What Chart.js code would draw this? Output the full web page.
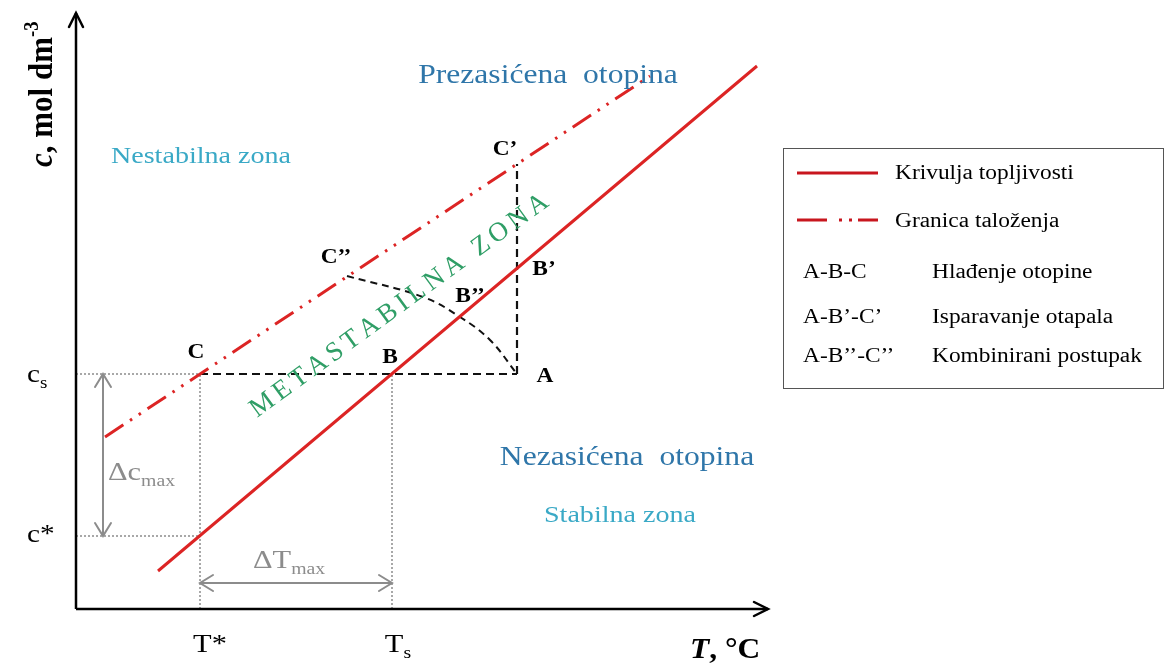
<!DOCTYPE html>
<html>
<head>
<meta charset="utf-8">
<script src="https://cdn.jsdelivr.net/npm/chart.js@4.4.0/dist/chart.umd.min.js"></script>
<style>
  html, body { margin: 0; padding: 0; background: #fff; }
  canvas { display: block; }
</style>
</head>
<body>
<canvas id="chart" width="1169" height="663"></canvas>
<script>
// schematic units: T along x, c along y (origin = axis corner)
const T_STAR = 12.4, T_S = 31.6, T_A = 44.1;
const C_STAR = 7.3, C_S = 23.5;
const T_END = 69.2, C_END = 59.6;

const solubility = [{x: 8.2, y: 3.8}, {x: 68.1, y: 54.3}];
const precipitation = [{x: 2.9, y: 17.2}, {x: 57.4, y: 53.3}];
const coolingPath = [{x: T_STAR, y: C_S}, {x: T_A, y: C_S}];          // C - B - A
const evaporationPath = [{x: T_A, y: C_S}, {x: T_A, y: 44.5}];        // A - B' - C'
const combinedPath = [{x: 27.1, y: 33.3}, {x: 34.7, y: 31.2}, {x: 38.4, y: 29.2}, {x: 41.4, y: 26.9}, {x: T_A, y: C_S}];
const guideCs = [{x: 0, y: C_S}, {x: T_STAR, y: C_S}];
const guideCstar = [{x: 0, y: C_STAR}, {x: T_STAR, y: C_STAR}];
const guideTstar = [{x: T_STAR, y: 0}, {x: T_STAR, y: C_S}];
const guideTs = [{x: T_S, y: 0}, {x: T_S, y: C_S}];
const deltaC = [{x: 2.7, y: C_STAR}, {x: 2.7, y: C_S}];
const deltaT = [{x: T_STAR, y: 2.6}, {x: T_S, y: 2.6}];
const axisT = [{x: 0, y: 0}, {x: T_END, y: 0}];
const axisC = [{x: 0, y: 0}, {x: 0, y: C_END}];

const legendLines = ['Krivulja topljivosti', 'Granica taloženja'];
const legendCodes = ['A-B-C', 'A-B\u2019-C\u2019', 'A-B\u2019\u2019-C\u2019\u2019'];
const legendNames = ['Hlađenje otopine', 'Isparavanje otapala', 'Kombinirani postupak'];

const RED = '#dc2424';
const BLUE = '#2f76a9';
const CYAN = '#3aa9c6';
const GREEN = '#2f9e66';
const GRAY = '#8c8c8c';
const FONT = '"Liberation Serif", "Times New Roman", serif';
const SX = 1.17;
const PRECIP_DASH = [22, 8, 2.5, 8, 2.5, 8];

// text annotations, anchors in chart units
const texts = [
  {runs: [{t: 'Prezasićena  otopina'}], x: 47.2, y: 52.6, size: 27, color: BLUE, align: 'center'},
  {runs: [{t: 'Nestabilna zona'}], x: 12.5, y: 44.6, size: 24, color: CYAN, align: 'center'},
  {runs: [{t: 'Nezasićena  otopina'}], x: 55.1, y: 14.4, size: 27, color: BLUE, align: 'center'},
  {runs: [{t: 'Stabilna zona'}], x: 54.4, y: 8.7, size: 24, color: CYAN, align: 'center'},
  {runs: [{t: 'C'}], x: 12.0, y: 25.1, size: 20, bold: true, align: 'center'},
  {runs: [{t: 'B'}], x: 31.4, y: 24.6, size: 20, bold: true, align: 'center'},
  {runs: [{t: 'A'}], x: 46.9, y: 22.7, size: 20, bold: true, align: 'center'},
  {runs: [{t: 'B\u2019'}], x: 46.8, y: 33.4, size: 20, bold: true, align: 'center'},
  {runs: [{t: 'B\u2019\u2019'}], x: 39.4, y: 30.7, size: 20, bold: true, align: 'center'},
  {runs: [{t: 'C\u2019\u2019'}], x: 26.0, y: 34.6, size: 20, bold: true, align: 'center'},
  {runs: [{t: 'C\u2019'}], x: 42.9, y: 45.4, size: 20, bold: true, align: 'center'},
  {runs: [{t: 'c'}, {t: 's', f: 0.65, dy: 0.22}], x: -4.9, y: 22.7, size: 25, align: 'left'},
  {runs: [{t: 'c*'}], x: -4.9, y: 6.7, size: 25, align: 'left'},
  {runs: [{t: 'T*'}], x: 13.4, y: -4.3, size: 26, align: 'center'},
  {runs: [{t: 'T'}, {t: 's', f: 0.65, dy: 0.22}], x: 32.2, y: -4.3, size: 26, align: 'center'},
  {runs: [{t: '\u0394c'}, {t: 'max', f: 0.65, dy: 0.22}], x: 3.2, y: 12.9, size: 26, color: GRAY, align: 'left'},
  {runs: [{t: '\u0394T'}, {t: 'max', f: 0.65, dy: 0.22}], x: 17.7, y: 4.1, size: 26, color: GRAY, align: 'left'},
  {runs: [{t: 'T', it: true}, {t: ', \u00b0C'}], x: 61.4, y: -4.9, size: 30, bold: true, sx: 1.05, align: 'left'},
  {runs: [{t: 'c', it: true}, {t: ', mol dm'}, {t: '-3', f: 0.6, dy: -0.42}], x: -2.4, y: 44.2, size: 31, bold: true, sx: 1.08, rot: -Math.PI / 2, align: 'left'}
];

function font(size, bold, it) {
  return (it ? 'italic ' : '') + (bold ? 'bold ' : '') + size + 'px ' + FONT;
}

function drawRich(ctx, item, px, py) {
  const size = item.size;
  ctx.save();
  ctx.translate(px, py);
  ctx.scale(item.sx || SX, 1);
  if (item.rot) ctx.rotate(item.rot);
  ctx.fillStyle = item.color || '#000';
  ctx.textBaseline = 'alphabetic';
  ctx.textAlign = 'left';
  let total = 0;
  const widths = item.runs.map(r => {
    ctx.font = font(size * (r.f || 1), item.bold, r.it);
    const w = ctx.measureText(r.t).width;
    total += w;
    return w;
  });
  let cx = item.align === 'center' ? -total / 2 : item.align === 'right' ? -total : 0;
  item.runs.forEach((r, i) => {
    ctx.font = font(size * (r.f || 1), item.bold, r.it);
    ctx.fillText(r.t, cx, (r.dy || 0) * size);
    cx += widths[i];
  });
  ctx.restore();
}

function chevron(ctx, tip, from, len, half) {
  const a = Math.atan2(tip.y - from.y, tip.x - from.x);
  ctx.beginPath();
  ctx.moveTo(tip.x - len * Math.cos(a) + half * Math.sin(a), tip.y - len * Math.sin(a) - half * Math.cos(a));
  ctx.lineTo(tip.x, tip.y);
  ctx.lineTo(tip.x - len * Math.cos(a) - half * Math.sin(a), tip.y - len * Math.sin(a) + half * Math.cos(a));
  ctx.stroke();
}

const overlay = {
  id: 'overlay',
  afterDatasetsDraw(chart) {
    const ctx = chart.ctx;
    const xs = chart.scales.x, ys = chart.scales.y;
    const X = v => xs.getPixelForValue(v), Y = v => ys.getPixelForValue(v);

    // arrow heads on datasets
    chart.data.datasets.forEach((ds, i) => {
      if (!ds.arrow) return;
      const pts = chart.getDatasetMeta(i).data;
      const p0 = pts[0], p1 = pts[pts.length - 1];
      ctx.save();
      ctx.strokeStyle = ds.borderColor;
      ctx.lineWidth = ds.borderWidth;
      ctx.setLineDash([]);
      ctx.lineCap = 'round';
      chevron(ctx, p1, p0, ds.arrowLen, ds.arrowHalf);
      if (ds.arrow === 'both') chevron(ctx, p0, p1, ds.arrowLen, ds.arrowHalf);
      ctx.restore();
    });

    // METASTABILNA ZONA along the band
    const s = {x: X(18.1), y: Y(19.1)}, e = {x: X(47.4), y: Y(40.4)};
    const ang = Math.atan2(e.y - s.y, e.x - s.x);
    const L = Math.hypot(e.x - s.x, e.y - s.y);
    const word = 'METASTABILNA ZONA';
    ctx.save();
    ctx.font = '27px ' + FONT;
    ctx.fillStyle = GREEN;
    const cw = [...word].map(ch => ctx.measureText(ch).width);
    const natural = cw.reduce((a, b) => a + b, 0);
    const gap = (L - natural) / (word.length - 1);
    ctx.translate(s.x, s.y);
    ctx.rotate(ang);
    let off = 0;
    [...word].forEach((ch, i) => { ctx.fillText(ch, off, 0); off += cw[i] + gap; });
    ctx.restore();

    texts.forEach(t => drawRich(ctx, t, X(t.x), Y(t.y)));

    // legend box
    ctx.save();
    ctx.strokeStyle = '#555';
    ctx.lineWidth = 1;
    ctx.strokeRect(Math.round(X(70.7)) + 0.5, Math.round(Y(46.1)) + 0.5, X(108.7) - X(70.7), Y(22.1) - Y(46.1));
    ctx.strokeStyle = '#c8161e';
    ctx.lineWidth = 3;
    legendLines.forEach((lab, i) => {
      const ly = Y([43.6, 38.9][i]);
      ctx.setLineDash(i === 0 ? [] : [30, 12, 3, 7, 3, 6]);
      ctx.beginPath();
      ctx.moveTo(X(72.1), ly);
      ctx.lineTo(X(80.2), ly);
      ctx.stroke();
      drawRich(ctx, {runs: [{t: lab}], size: 20, align: 'left'}, X(81.9), Y([43.0, 38.2][i]));
    });
    ctx.restore();
    const rowY = [33.1, 28.6, 24.7];
    legendCodes.forEach((code, i) => {
      drawRich(ctx, {runs: [{t: code}], size: 20, align: 'left'}, X(72.7), Y(rowY[i]));
      drawRich(ctx, {runs: [{t: legendNames[i]}], size: 20, align: 'left'}, X(85.6), Y(rowY[i]));
    });
  }
};

function line(data, color, width, dash, extra) {
  return Object.assign({data, showLine: true, borderColor: color, borderWidth: width,
    borderDash: dash || [], pointRadius: 0, fill: false, tension: 0}, extra || {});
}

new Chart(document.getElementById('chart'), {
  type: 'scatter',
  data: {
    datasets: [
      line(axisT, '#000', 2.5, [], {arrow: 'end', arrowLen: 14, arrowHalf: 7}),
      line(axisC, '#000', 2.5, [], {arrow: 'end', arrowLen: 14, arrowHalf: 7}),
      line(solubility, RED, 3),
      line(precipitation, RED, 3, PRECIP_DASH),
      line(coolingPath, '#111', 2.2, [8, 5]),
      line(evaporationPath, '#111', 2.2, [8, 5]),
      line(combinedPath, '#111', 2, [7, 5], {tension: 0.4}),
      line(deltaC, GRAY, 2, [], {arrow: 'both', arrowLen: 13, arrowHalf: 8}),
      line(deltaT, GRAY, 2, [], {arrow: 'both', arrowLen: 13, arrowHalf: 8}),
      line(guideCs, GRAY, 1.5, [2, 2]),
      line(guideCstar, GRAY, 1.5, [2, 2]),
      line(guideTstar, GRAY, 1.5, [2, 2]),
      line(guideTs, GRAY, 1.5, [2, 2])
    ]
  },
  options: {
    responsive: false,
    animation: false,
    layout: { padding: 0 },
    plugins: { legend: { display: false }, tooltip: { enabled: false } },
    scales: {
      x: { type: 'linear', display: false, min: -7.6, max: 109.3 },
      y: { type: 'linear', display: false, min: -5.4, max: 60.9 }
    }
  },
  plugins: [overlay]
});
</script>
</body>
</html>
